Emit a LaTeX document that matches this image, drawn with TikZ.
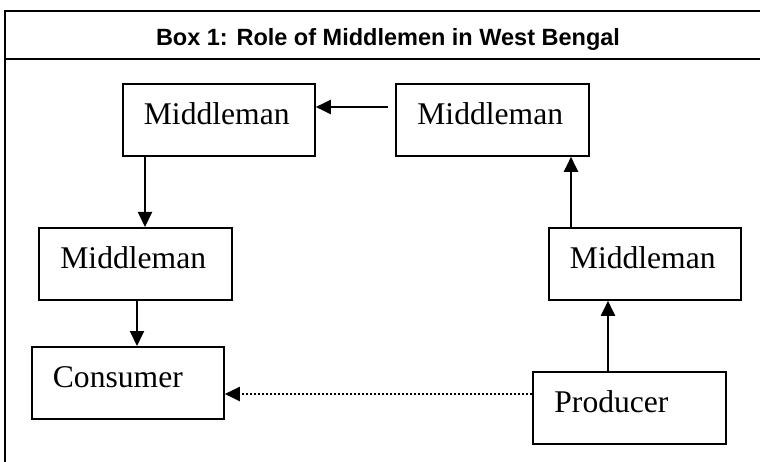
\documentclass[tikz,border=0pt]{standalone}
\usepackage{fontspec}
\setmainfont{Liberation Serif}
\newfontfamily\titlefont{Liberation Sans}
\usetikzlibrary{arrows.meta}
\begin{document}
\begin{tikzpicture}[x=1pt,y=-1pt,
  box/.style={draw, line width=1.8pt, anchor=north west, inner ysep=0pt, inner xsep=21pt,
    text width=150pt, align=left, text height=41pt, text depth=31pt,
    font=\fontsize{31.6pt}{34pt}\selectfont},
  arr/.style={line width=2pt, -{Triangle[length=15pt,width=14pt]}},
  dotarr/.style={line width=2pt, dash pattern=on 2pt off 2pt, -{Triangle[length=15pt,width=14pt]}},
  frame/.style={line width=2.2pt}]
\fill[white] (0,0) rectangle (760,462);
\useasboundingbox (0,0) rectangle (760,462);
% frame
\coordinate (tr) at (760,11);
\coordinate (tl) at (5,11);
\coordinate (bl) at (5,462);
\coordinate (sl) at (5,59);
\coordinate (sr) at (760,59);
\draw[frame] (tr) -- (tl) -- (bl);
\draw[frame] (sl) -- (sr);
\node[font=\titlefont\bfseries\fontsize{23.5pt}{26pt}\selectfont, anchor=base] (title) at (388,46) {Box 1: Role of Middlemen in West Bengal};
% boxes
\node[box, minimum width=192pt] (A) at (122,83) {Middleman};
\node[box, minimum width=193pt] (B) at (395,83) {Middleman};
\node[box, minimum width=193pt] (C) at (38,227) {Middleman};
\node[box, minimum width=192pt] (D) at (548,227) {Middleman};
\node[box, minimum width=192pt] (E) at (31,346) {Consumer};
\node[box, minimum width=193pt] (F) at (532,371) {Producer};
% connectors
\draw[arr] ([xshift=-7pt,yshift=-24pt]B.north west) -- ([yshift=-24pt]A.north east);
\draw[arr] ([xshift=23pt]A.south west) -- ([xshift=23pt]A.south west |- C.north);
\draw[arr] ([xshift=99pt]C.south west) -- ([xshift=99pt]C.south west |- E.north);
\draw[arr] ([xshift=76pt]F.north west) -- ([xshift=76pt]F.north west |- D.south);
\draw[arr] ([xshift=23pt]D.north west) -- ([xshift=23pt]D.north west |- B.south);
\draw[dotarr] ([yshift=-23pt]F.north west) -- ([yshift=-23pt]F.north west -| E.east);
\end{tikzpicture}
\end{document}
